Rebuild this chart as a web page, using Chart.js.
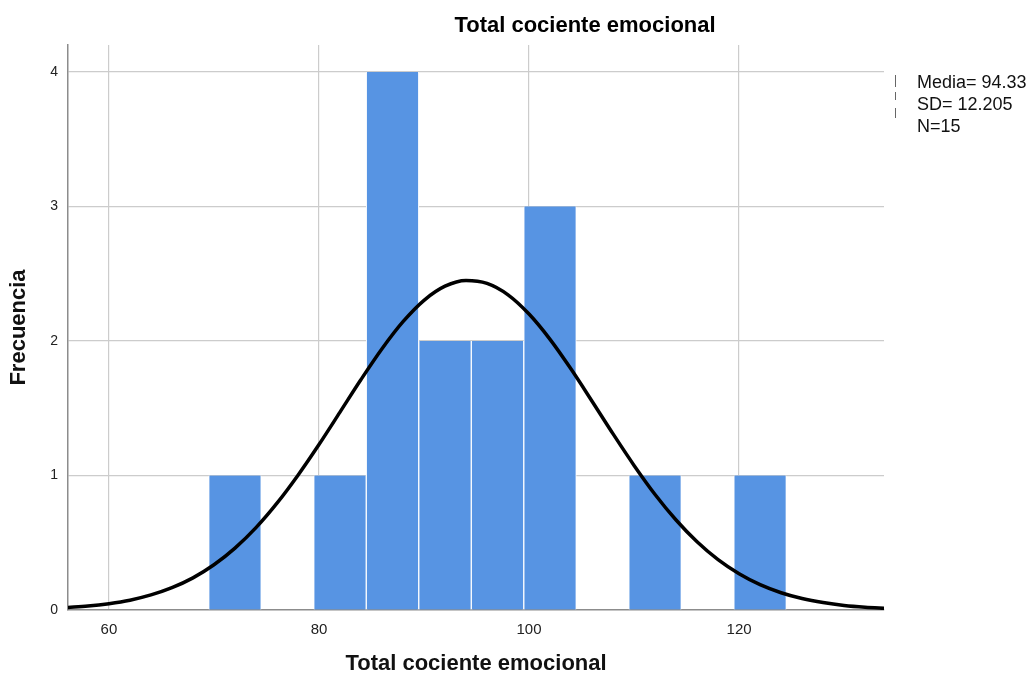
<!DOCTYPE html>
<html>
<head>
<meta charset="utf-8">
<script src="https://cdn.jsdelivr.net/npm/chart.js@4/dist/chart.umd.min.js"></script>
<style>
  html, body { margin: 0; padding: 0; background: #ffffff; }
  #wrap { width: 1031px; height: 677px; position: relative; }
</style>
</head>
<body>
<div id="wrap"><canvas id="c" width="1031" height="677"></canvas></div>
<script>
// ---- data ----
const chartTitle = "Total cociente emocional";
const xAxisTitle = "Total cociente emocional";
const yAxisTitle = "Frecuencia";
const statsLabels = ["Media= 94.33", "SD= 12.205", "N=15"];

const binCenters  = [72, 82, 87, 92, 97, 102, 112, 122];
const frequencies = [1, 1, 4, 2, 2, 3, 1, 1];

const xTicks = [60, 80, 100, 120];
const yTicks = [0, 1, 2, 3, 4];

const curveX = [56, 58, 60, 62, 64, 66, 68, 70, 72, 74, 76, 78, 80, 82, 84, 86, 88, 90, 92, 94,
                96, 98, 100, 102, 104, 106, 108, 110, 112, 114, 116, 118, 120, 122, 124, 126, 128, 130, 132, 134];
const curveY = [0.018, 0.029, 0.047, 0.073, 0.112, 0.166, 0.239, 0.336, 0.460, 0.612, 0.794, 1.002, 1.230, 1.471, 1.713, 1.942, 2.143, 2.302, 2.407, 2.450,
                2.428, 2.343, 2.200, 2.012, 1.791, 1.552, 1.309, 1.075, 0.859, 0.669, 0.507, 0.374, 0.269, 0.188, 0.128, 0.085, 0.055, 0.034, 0.021, 0.013];

const xMin = 56.1, xMax = 133.8, yMax = 4.2;

const barData = binCenters.map((x, i) => ({ x: x, y: frequencies[i] }));
const lineData = curveX.map((x, i) => ({ x: x, y: curveY[i] }));

const FONT = "'Liberation Sans', Arial, sans-serif";

const overlay = {
  id: 'overlay',
  afterDraw(chart) {
    const ctx = chart.ctx;
    ctx.save();
    // main title
    ctx.fillStyle = '#000';
    ctx.font = "bold 22px " + FONT;
    ctx.textAlign = 'center';
    ctx.textBaseline = 'middle';
    ctx.fillText(chartTitle, 585, 26);
    // stats box
    ctx.font = "18px " + FONT;
    ctx.textAlign = 'left';
    ctx.fillStyle = '#111';
    const ys = [83, 105, 127];
    statsLabels.forEach((t, i) => ctx.fillText(t, 917, ys[i]));
    ctx.strokeStyle = '#666';
    ctx.lineWidth = 1;
    [[75, 87], [92, 100], [108, 118]].forEach(s => {
      ctx.beginPath();
      ctx.moveTo(895.5, s[0]);
      ctx.lineTo(895.5, s[1]);
      ctx.stroke();
    });
    ctx.restore();
  }
};

new Chart(document.getElementById('c'), {
  type: 'bar',
  data: {
    datasets: [
      {
        type: 'line',
        data: lineData,
        borderColor: '#000000',
        borderWidth: 3.5,
        pointRadius: 0,
        fill: false,
        cubicInterpolationMode: 'monotone',
        order: 0
      },
      {
        type: 'bar',
        data: barData,
        backgroundColor: '#5794e3',
        borderColor: '#ffffff',
        borderWidth: { left: 1, right: 1, top: 0, bottom: 0 },
        borderSkipped: false,
        barPercentage: 1.0,
        categoryPercentage: 1.0,
        order: 1
      }
    ]
  },
  options: {
    responsive: false,
    animation: false,
    layout: { padding: { top: 45, right: 147, bottom: 0, left: 0 } },
    plugins: {
      legend: { display: false },
      title: { display: false },
      tooltip: { enabled: false }
    },
    scales: {
      x: {
        type: 'linear',
        min: xMin,
        max: xMax,
        offset: false,
        afterBuildTicks: (s) => { s.ticks = xTicks.map(v => ({ value: v })); },
        afterFit: (s) => { s.height = 67; },
        grid: { color: '#cccccc', lineWidth: 1.2, offset: false, drawTicks: false },
        border: { color: '#8c8c8c', width: 1.5 },
        ticks: { color: '#222', font: { family: FONT, size: 15 }, padding: 11, maxRotation: 0 },
        title: {
          display: true,
          text: xAxisTitle,
          color: '#111',
          font: { family: FONT, size: 22, weight: 'bold' },
          padding: { top: 8, bottom: 0 }
        }
      },
      y: {
        min: 0,
        max: yMax,
        afterBuildTicks: (s) => { s.ticks = yTicks.map(v => ({ value: v })); },
        afterFit: (s) => { s.width = 68; },
        grid: { color: (c) => c.tick && c.tick.value === 0 ? 'rgba(0,0,0,0)' : '#cccccc', lineWidth: 1.2, drawTicks: false },
        border: { color: '#8c8c8c', width: 1.5 },
        ticks: { color: '#222', font: { family: FONT, size: 14 }, padding: 10 },
        title: {
          display: true,
          text: yAxisTitle,
          color: '#111',
          font: { family: FONT, size: 22, weight: 'bold' },
          padding: { top: 6, bottom: 0 }
        }
      }
    }
  },
  plugins: [overlay]
});
</script>
</body>
</html>
